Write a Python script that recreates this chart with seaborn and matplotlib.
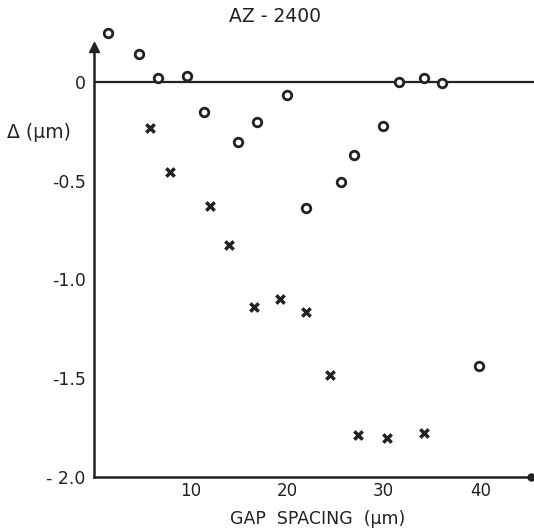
import matplotlib
matplotlib.use("Agg")
import matplotlib.pyplot as plt
import seaborn as sns
import pandas as pd

# Data
circle_x = [1.5, 4.7, 6.7, 9.7, 11.4, 14.9, 16.9, 20.0, 22.0, 25.6, 26.9, 29.9, 31.6, 34.2, 36.0, 39.9]
circle_y = [0.25, 0.14, 0.02, 0.03, -0.15, -0.305, -0.205, -0.066, -0.64, -0.505, -0.37, -0.225, 0.0, 0.02, -0.007, -1.44]
cross_x = [5.8, 7.9, 12.0, 14.0, 16.6, 19.3, 22.0, 24.5, 27.3, 30.4, 34.2]
cross_y = [-0.235, -0.455, -0.63, -0.825, -1.14, -1.10, -1.165, -1.485, -1.79, -1.805, -1.78]
x_ticks = [10, 20, 30, 40]
y_ticks = [0, -0.5, -1.0, -1.5, -2.0]
y_ticklabels = ["0", "-0.5", "-1.0", "-1.5", "- 2.0"]
title = "AZ - 2400"
xlabel = "GAP  SPACING  (\u03bcm)"
ylabel = "\u0394 (\u03bcm)"

sns.set_style("white")
plt.rcParams["font.family"] = ["DejaVu Sans"]
ink = "#222222"

fig = plt.figure(figsize=(5.34, 5.30), dpi=100)
ax = fig.add_axes([93.5 / 534, 53.3 / 530, 1 - 93.5 / 534, 476.7 / 530])
ax.set_xlim(0, 45.55)
ax.set_ylim(-2.0, 82 / 197.3)

df_c = pd.DataFrame({"x": circle_x, "y": circle_y})
df_x = pd.DataFrame({"x": cross_x, "y": cross_y})

ax.axhline(0, color=ink, lw=1.6, zorder=1)

sns.scatterplot(data=df_c, x="x", y="y", ax=ax, marker="o", s=38,
                facecolor="white", edgecolor=ink, linewidth=2.0, zorder=3,
                clip_on=False)
sns.scatterplot(data=df_x, x="x", y="y", ax=ax, marker="x", s=36,
                color=ink, linewidth=2.5, zorder=3, clip_on=False)

for side in ["top", "right"]:
    ax.spines[side].set_visible(False)
ax.spines["left"].set_bounds(-2.0, 0.19)
ax.spines["bottom"].set_bounds(0, 45.2)
for side in ["left", "bottom"]:
    ax.spines[side].set_color(ink)
    ax.spines[side].set_linewidth(1.8)

# arrow head on y-axis and dot at end of x-axis
ax.plot([0], [0.175], marker="^", ms=7, color=ink, clip_on=False, zorder=4)
ax.plot([45.2], [-2.0], marker="o", ms=5, color=ink, clip_on=False, zorder=4)

ax.set_xticks(x_ticks)
ax.set_xticklabels([str(t) for t in x_ticks])
ax.set_yticks(y_ticks)
ax.set_yticklabels(y_ticklabels)
ax.tick_params(axis="x", direction="in", length=7, width=1.5, color=ink,
               labelsize=12, labelcolor=ink, pad=4)
ax.tick_params(axis="y", direction="inout", length=9, width=1.5, color=ink,
               labelsize=12.5, labelcolor=ink, pad=1)
ax.set_xlabel("")
ax.set_ylabel("")

fig.text(0.515, 0.968, title, ha="center", va="center", fontsize=13.5,
         color=ink, fontweight="medium")
fig.text(0.595, 0.02, xlabel, ha="center", va="center", fontsize=12.5,
         color=ink)
fig.text(0.014, 0.75, ylabel, ha="left", va="center", fontsize=13.5, color=ink)

ax.grid(False)
fig.savefig("out.png", dpi=100, facecolor="white")
